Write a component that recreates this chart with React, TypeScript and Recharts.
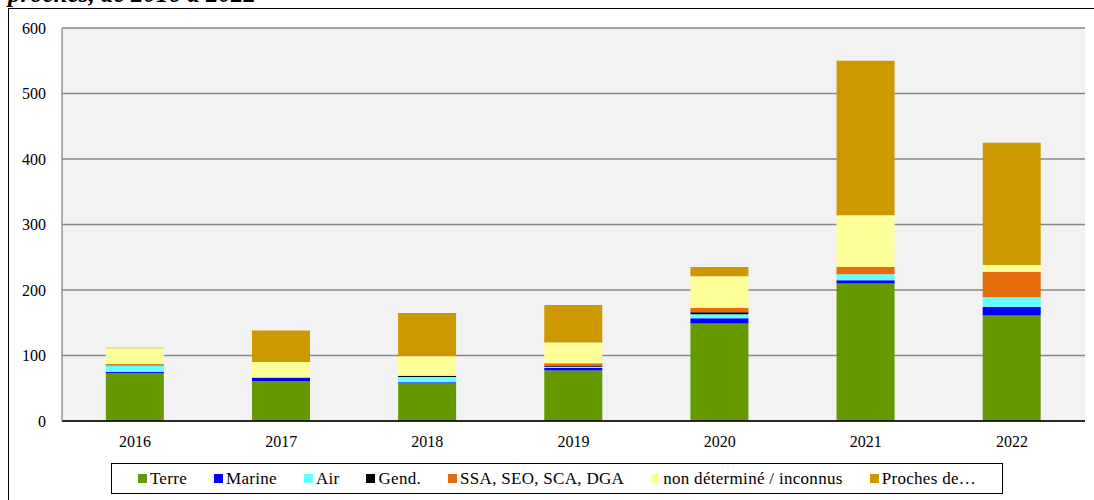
import React from "react";
import { BarChart, Bar, XAxis, YAxis, CartesianGrid } from "recharts";

const years = ["2016", "2017", "2018", "2019", "2020", "2021", "2022"];
const terre = [73, 61, 58, 77, 149, 210, 161];
const marine = [2, 5, 1, 4, 8, 5, 13];
const air = [10, 1, 8, 2, 6, 9, 15];
const gend = [1, 0, 2, 1, 3, 0, 0];
const ssa = [1, 0, 0, 4, 7, 11, 39];
const nonDetermine = [24, 23, 30, 32, 48, 79, 10];
const proches = [1, 48, 66, 57, 14, 236, 187];
const yTicks = [0, 100, 200, 300, 400, 500, 600];

const seriesNames = [
  "Terre",
  "Marine",
  "Air",
  "Gend.",
  "SSA, SEO, SCA, DGA",
  "non déterminé / inconnus",
  "Proches de…",
];
const seriesValues = [terre, marine, air, gend, ssa, nonDetermine, proches];
const seriesColors = ["#669900", "#0000ff", "#66ffff", "#000000", "#e46c0a", "#ffff99", "#cc9900"];
const seriesKeys = ["s0", "s1", "s2", "s3", "s4", "s5", "s6"];

const data = years.map((y, i) => {
  const row: Record<string, string | number> = { year: y };
  seriesKeys.forEach((k, j) => {
    row[k] = seriesValues[j][i];
  });
  return row;
});

const FONT = "'Liberation Serif', 'DejaVu Serif', serif";

export default function App() {
  return (
    <div
      style={{
        position: "absolute",
        left: 0,
        top: 0,
        width: 1094,
        height: 500,
        overflow: "hidden",
        background: "#ffffff",
        fontFamily: FONT,
      }}
    >
      <div
        style={{
          position: "absolute",
          left: 8,
          top: -19,
          fontSize: 25,
          lineHeight: 1,
          fontWeight: "bold",
          fontStyle: "italic",
          whiteSpace: "nowrap",
          color: "#000",
        }}
      >
        proches, de 2016 à 2022
      </div>
      <div
        style={{
          position: "absolute",
          left: 8,
          top: 8,
          width: 1200,
          height: 600,
          border: "1.5px solid #000",
          boxSizing: "border-box",
        }}
      />
      <div style={{ position: "absolute", left: 0, top: 0 }}>
        <BarChart
          width={1094}
          height={500}
          data={data}
          margin={{ top: 28, right: 9, bottom: 49, left: 0 }}
          barCategoryGap="30%"
        >
          <CartesianGrid
            vertical={false}
            stroke="#888888"
            strokeWidth={1.3}
            fill="#f2f2f2"
            fillOpacity={1}
          />
          <XAxis
            dataKey="year"
            height={30}
            tickLine={false}
            tickSize={0}
            tickMargin={15}
            axisLine={{ stroke: "#000", strokeWidth: 1.5 }}
            tick={{ fill: "#000", fontSize: 16, fontFamily: FONT }}
          />
          <YAxis
            width={62}
            domain={[0, 600]}
            ticks={yTicks}
            interval={0}
            tickLine={false}
            tickSize={0}
            tickMargin={16}
            axisLine={{ stroke: "#888888", strokeWidth: 1.3 }}
            tick={{ fill: "#000", fontSize: 16, fontFamily: FONT }}
          />
          {seriesKeys.map((k, j) => (
            <Bar
              key={k}
              dataKey={k}
              name={seriesNames[j]}
              stackId="a"
              fill={seriesColors[j]}
              isAnimationActive={false}
            />
          ))}
        </BarChart>
      </div>
      <div
        style={{
          position: "absolute",
          left: 111,
          top: 463,
          width: 892,
          height: 31,
          border: "1.5px solid #000",
          boxSizing: "border-box",
          display: "flex",
          alignItems: "center",
          justifyContent: "center",
          gap: 27,
          fontSize: 17,
          letterSpacing: 0.3,
          color: "#000",
        }}
      >
        {seriesNames.map((n, j) => (
          <div key={n} style={{ display: "flex", alignItems: "center", whiteSpace: "nowrap" }}>
            <span
              style={{
                display: "inline-block",
                width: 9,
                height: 9,
                background: seriesColors[j],
                marginRight: 3,
              }}
            />
            <span>{n}</span>
          </div>
        ))}
      </div>
    </div>
  );
}
